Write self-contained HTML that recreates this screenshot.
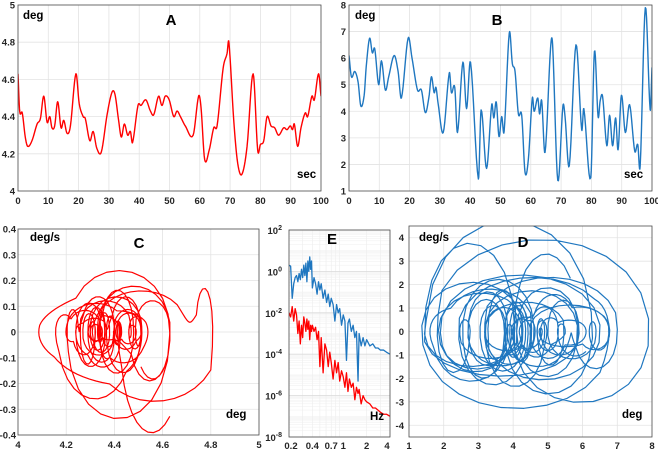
<!DOCTYPE html>
<html><head><meta charset="utf-8"><style>
html,body{margin:0;padding:0;background:#fff;}
svg{display:block;font-family:"Liberation Sans",Arial,sans-serif;}
.tk{font-size:9.5px;font-weight:bold;fill:#262626;}
.ttl{font-size:15px;font-weight:bold;fill:#000;}
.un{font-size:11.5px;font-weight:bold;fill:#000;}
</style></head><body>
<svg id="fig" width="658" height="453" viewBox="0 0 658 453">
<defs>
<clipPath id="cA"><rect x="18" y="5" width="303" height="187"/></clipPath>
<clipPath id="cB"><rect x="349" y="5" width="303" height="187"/></clipPath>
<clipPath id="cC"><rect x="18" y="229" width="241" height="206"/></clipPath>
<clipPath id="cD"><rect x="409" y="226" width="243" height="211"/></clipPath>
<clipPath id="cE"><rect x="289" y="230" width="101" height="207"/></clipPath>
</defs>
</svg>
<script>
// ---- Panel A data (time s, angle deg)
const aTime=[0,0.55,1.4,2.4,3.2,4.6,6.3,7.4,8.5,9.6,10.5,11.2,12.1,13.1,14.2,15.1,16.2,17.3,19.1,20.2,21.5,22.2,23.7,24.8,26,27.5,29.4,31,32,33.2,34.1,35.1,36.2,37.1,37.8,39.6,40.6,42.2,43.7,44.8,46.4,47.5,48.6,49.9,51.4,52.5,53.6,55.2,57.8,59.6,60.4,61.6,63.1,64.6,65.7,67.7,69,69.6,71.2,72.5,73.9,75.6,77.6,79.1,80,81.1,82.2,83.5,84.7,86,87.7,88.8,89.9,90.6,91.2,92.3,93.4,94.8,95.6,97,97.8,99.2,100];
const aAngle=[4.63,4.43,4.42,4.29,4.24,4.27,4.36,4.39,4.51,4.37,4.40,4.34,4.35,4.48,4.34,4.38,4.31,4.35,4.63,4.47,4.40,4.39,4.27,4.32,4.23,4.21,4.41,4.53,4.52,4.38,4.29,4.36,4.30,4.32,4.26,4.46,4.46,4.49,4.43,4.41,4.51,4.46,4.51,4.49,4.40,4.43,4.40,4.35,4.30,4.51,4.45,4.17,4.22,4.34,4.35,4.66,4.74,4.80,4.38,4.15,4.09,4.24,4.63,4.22,4.25,4.27,4.40,4.35,4.34,4.30,4.34,4.33,4.35,4.33,4.36,4.24,4.34,4.42,4.40,4.51,4.49,4.63,4.51];
// ---- Panel B data
const bTime=[0,0.8,1.9,3,3.9,5,5.7,6.8,7.7,8.5,9.8,10.7,12,13.1,14.9,16.2,17.3,19.5,20.8,22.6,23.9,25.2,26.4,27.2,28.1,28.7,29.4,31.1,33.1,33.8,34.9,35.8,37.6,38.8,40.1,42.7,43.6,45.4,47.1,47.8,48.6,49.5,50.4,51.2,52.9,53.9,54.8,55.9,57,58.1,59.2,60.5,61.1,62.3,62.9,63.6,64.7,66.5,67.2,68.9,70.6,71.3,72.7,74.9,76.8,77.5,79.8,81,82.2,82.9,83.7,85.1,86,87,88,88.8,89.9,91.2,92.6,94.3,95.3,96.1,97.8,99.4,100];
const bAngle=[6.1,5.3,5.5,5.1,4.2,4.6,5.7,6.75,6.2,6.35,5.0,5.9,4.8,5.3,6.1,5.5,4.5,6.75,6.0,4.8,4.8,3.95,4.55,5.3,4.7,4.9,4.3,3.2,5.45,4.7,4.9,3.2,5.85,4.1,5.85,1.45,4.05,1.85,4.25,3.75,4.35,3.05,3.8,3.25,6.95,5.8,5.5,3.9,3.85,1.7,2.2,4.5,4.0,4.5,3.9,4.4,2.45,6.35,6.5,1.4,4.2,3.8,1.95,6.5,3.3,4.1,1.5,6.25,3.8,4.4,4.55,2.7,3.85,2.7,3.75,2.55,4.6,3.2,4.25,2.5,2.75,1.95,7.9,4.05,5.65];
// ---- Panel E data (Hz, log10 power)
const eFreq=[0.2,0.21,0.22,0.23,0.24,0.25,0.26,0.27,0.28,0.29,0.30,0.31,0.32,0.33,0.34,0.35,0.36,0.37,0.38,0.39,0.40,0.42,0.44,0.46,0.48,0.50,0.52,0.55,0.58,0.61,0.64,0.67,0.70,0.74,0.78,0.82,0.86,0.90,0.95,1.0,1.05,1.1,1.15,1.2,1.27,1.34,1.41,1.48,1.55,1.6,1.7,1.8,1.9,2.0,2.2,2.4,2.6,2.8,3.0,3.3,3.6,4.0];
const eBlue=[0.3,0.25,-1.3,-0.6,-0.3,-0.2,-0.5,-0.1,-0.4,0.1,-0.3,0.3,-0.2,0.4,-0.5,0.5,0.0,0.7,0.1,0.5,-0.8,-0.3,-0.6,-1.1,-0.5,-0.9,-0.6,-1.3,-0.9,-1.5,-1.1,-1.7,-1.3,-1.6,-2.4,-1.6,-2.0,-1.8,-2.6,-2.1,-2.4,-4.3,-2.5,-2.3,-2.9,-2.6,-3.2,-2.9,-5.3,-3.0,-3.6,-3.2,-3.6,-3.3,-3.6,-3.5,-3.7,-3.7,-3.8,-3.8,-3.9,-4.0];
const eRed=[-2.0,-2.2,-1.7,-2.4,-1.8,-2.1,-3.0,-2.4,-3.5,-2.6,-3.2,-2.2,-2.5,-2.9,-2.3,-2.8,-2.4,-3.3,-2.6,-2.9,-2.6,-2.9,-2.7,-3.3,-2.9,-4.6,-3.2,-4.9,-3.5,-3.8,-4.6,-3.9,-4.4,-5.2,-4.3,-4.9,-4.4,-5.3,-4.8,-5.1,-5.6,-4.9,-5.8,-5.2,-5.6,-5.4,-6.2,-5.6,-5.9,-5.7,-6.4,-6.0,-6.2,-6.3,-6.4,-6.6,-6.6,-6.7,-6.8,-6.9,-6.9,-7.0];
// ---- tick labels
const aXTicks=[0,10,20,30,40,50,60,70,80,90,100];
const aYTicks=[4,4.2,4.4,4.6,4.8,5];
const bYTicks=[1,2,3,4,5,6,7,8];
const cXTicks=[4,4.2,4.4,4.6,4.8,5];
const cYTicks=[-0.4,-0.3,-0.2,-0.1,0,0.1,0.2,0.3,0.4];
const dXTicks=[1,2,3,4,5,6,7,8];
const dYTicks=[-4,-3,-2,-1,0,1,2,3,4];
const eXTicks=[0.2,0.4,0.7,1,2,4];
const eYTicks=[-8,-6,-4,-2,0,2];

const NS='http://www.w3.org/2000/svg';
const svg=document.getElementById('fig');
function mk(tag,attrs,parent){const e=document.createElementNS(NS,tag);for(const k in attrs)e.setAttribute(k,attrs[k]);(parent||svg).appendChild(e);return e;}
function lin(d0,d1,r0,r1){return v=>r0+(v-d0)*(r1-r0)/(d1-d0);}
function fmt(v){return (Math.round(v*10)/10).toString();}

function spline(T,V,n){
  const m=V.map((v,i)=>{const a=Math.max(0,i-1),b=Math.min(V.length-1,i+1);return (V[b]-V[a])/(T[b]-T[a]);});
  const ts=[],vs=[],ds=[];
  for(let i=0;i<T.length-1;i++){const dt=T[i+1]-T[i];
    for(let k=0;k<n;k++){const s=k/n,s2=s*s,s3=s2*s;
      const v=(2*s3-3*s2+1)*V[i]+(s3-2*s2+s)*dt*m[i]+(-2*s3+3*s2)*V[i+1]+(s3-s2)*dt*m[i+1];
      const d=((6*s2-6*s)*V[i]+(3*s2-4*s+1)*dt*m[i]+(-6*s2+6*s)*V[i+1]+(3*s2-2*s)*dt*m[i+1])/dt;
      ts.push(T[i]+s*dt);vs.push(v);ds.push(d);}}
  ts.push(T[T.length-1]);vs.push(V[V.length-1]);ds.push(m[m.length-1]);
  return {t:ts,v:vs,d:ds};
}

function axesBox(name){
  const g=mk('g',{});
  
  
  return g;
}
function frame(g,x0,y0,x1,y1){
  const r=mk('rect',{x:x0,y:y0,width:x1-x0,height:y1-y0,fill:'none',stroke:'#4d4d4d','stroke-width':0.8},g);
  
  
}
function grid(g,pos,vertical,a,b,w,col){
  pos.forEach(p=>{const l=vertical?mk('line',{x1:p,x2:p,y1:a,y2:b,stroke:col||'#e3e3e3','stroke-width':w||0.8},g):mk('line',{y1:p,y2:p,x1:a,x2:b,stroke:col||'#e3e3e3','stroke-width':w||0.8},g);
    
    });
}
function text(g,x,y,s,cls,anchor,name){
  const t=mk('text',{x:x,y:y,class:cls,'text-anchor':anchor||'start'},g);t.textContent=s;
  
  
  return t;
}
function poly(g,xs,ys,col,clip,name,w){
  let d='';for(let i=0;i<xs.length;i++)d+=(i?'L':'M')+xs[i].toFixed(2)+' '+ys[i].toFixed(2);
  const p=mk('path',{d:d,fill:'none',stroke:col,'stroke-width':w||1.4,'clip-path':'url(#'+clip+')','stroke-linejoin':'round'},g);
  
  
}
function xTickLabels(g,ticks,sx,y,name){ticks.forEach(v=>text(g,sx(v),y,fmt(v),'tk','middle',name));}
function yTickLabels(g,ticks,sy,x,name){ticks.forEach(v=>text(g,x,sy(v)+3.5,fmt(v),'tk','end',name));}

const RED='#ff0000',BLUE='#1f77c0';

// ---------- Panel A
(function(){
  const g=axesBox('panel-a');const x0=18,x1=321,y0=5,y1=191;
  const sx=lin(0,100,x0,x1),sy=lin(4,5,y1,y0);
  grid(g,aXTicks.map(sx),true,y0,y1);grid(g,aYTicks.map(sy),false,x0,x1);
  const s=spline(aTime,aAngle,8);
  poly(g,s.t.map(sx),s.v.map(sy),RED,'cA','angle-series-a');
  frame(g,x0,y0,x1,y1);
  xTickLabels(g,aXTicks,sx,204,'x-tick-label');yTickLabels(g,aYTicks,sy,15,'y-tick-label');
  text(g,171,25,'A','ttl','middle','panel-title-a');
  text(g,23,19,'deg','un','start','y-unit-label');text(g,297,178,'sec','un','start','x-unit-label');
})();
// ---------- Panel B
(function(){
  const g=axesBox('panel-b');const x0=349,x1=652,y0=5,y1=191;
  const sx=lin(0,100,x0,x1),sy=lin(1,8,y1,y0);
  grid(g,aXTicks.map(sx),true,y0,y1);grid(g,bYTicks.map(sy),false,x0,x1);
  const s=spline(bTime,bAngle,8);
  poly(g,s.t.map(sx),s.v.map(sy),BLUE,'cB','angle-series-b');
  frame(g,x0,y0,x1,y1);
  xTickLabels(g,aXTicks,sx,204,'x-tick-label');yTickLabels(g,bYTicks,sy,346,'y-tick-label');
  text(g,497,25,'B','ttl','middle','panel-title-b');
  text(g,355,19,'deg','un','start','y-unit-label');text(g,624,178,'sec','un','start','x-unit-label');
})();
// ---------- Panel C (phase portrait from A)
(function(){
  const g=axesBox('panel-c');const x0=18,x1=259,y0=229,y1=435;
  const sx=lin(4,5,x0,x1),sy=lin(-0.4,0.4,y1,y0);
  grid(g,cXTicks.map(sx),true,y0,y1);grid(g,cYTicks.map(sy),false,x0,x1);
  const s=spline(aTime,aAngle,10);
  poly(g,s.v.map(sx),s.d.map(v=>sy(v*0.9)),RED,'cC','phase-trajectory-c',1.2);
  frame(g,x0,y0,x1,y1);
  xTickLabels(g,cXTicks,sx,448,'x-tick-label');yTickLabels(g,cYTicks,sy,16,'y-tick-label');
  text(g,139,248,'C','ttl','middle','panel-title-c');
  text(g,30,241,'deg/s','un','start','y-unit-label');text(g,226,418,'deg','un','start','x-unit-label');
})();
// ---------- Panel E (spectra)
(function(){
  const g=axesBox('panel-e');const x0=289,x1=390,y0=230,y1=437;
  const sx=v=>x0+(x1-x0)*Math.log(v/0.2)/Math.log(20),sy=lin(-8,2,y1,y0);
  const minorX=[];for(const dec of [0.1,1]){for(let k=2;k<10;k++){const f=k*dec;if(f>=0.2&&f<=4)minorX.push(f);}}
  grid(g,minorX.map(sx),true,y0,y1,0.6,'#ececec');
  const minorY=[];for(let e=-8;e<2;e++)for(let k=1;k<10;k++)minorY.push(e+Math.log10(k));
  grid(g,minorY.map(sy),false,x0,x1,0.5,'#efefef');
  grid(g,eYTicks.map(sy),false,x0,x1,0.8,'#dadada');
  poly(g,eFreq.map(sx),eBlue.map(sy),BLUE,'cE','spectrum-b-blue',1.3);
  poly(g,eFreq.map(sx),eRed.map(sy),RED,'cE','spectrum-a-red',1.3);
  frame(g,x0,y0,x1,y1);
  eXTicks.forEach(v=>text(g,sx(v)+(v==4?-3:0)+(v==0.2?2:0),449,String(v),'tk','middle','x-tick-label'));
  eYTicks.forEach(v=>{const t=text(g,282,sy(v)+4,'10','tk','end','y-tick-label');
    const sp=mk('tspan',{dy:-4,'font-size':'7px'},t);sp.textContent=String(v);});
  text(g,332,244,'E','ttl','middle','panel-title-e');
  text(g,370,420,'Hz','un','start','x-unit-label');
})();
// ---------- Panel D (phase portrait from B)
(function(){
  const g=axesBox('panel-d');const x0=409,x1=652,y0=226,y1=437;
  const sx=lin(1,8,x0,x1),sy=lin(-4.5,4.5,y1,y0);
  grid(g,dXTicks.map(sx),true,y0,y1);grid(g,dYTicks.map(sy),false,x0,x1);
  const s=spline(bTime,bAngle,10);
  poly(g,s.v.map(sx),s.d.map(v=>sy(v*0.85)),BLUE,'cD','phase-trajectory-d',1.2);
  frame(g,x0,y0,x1,y1);
  xTickLabels(g,dXTicks,sx,449,'x-tick-label');yTickLabels(g,dYTicks,sy,404,'y-tick-label');
  text(g,523,247,'D','ttl','middle','panel-title-d');
  text(g,419,241,'deg/s','un','start','y-unit-label');text(g,622,418,'deg','un','start','x-unit-label');
})();
</script>
</body></html>
